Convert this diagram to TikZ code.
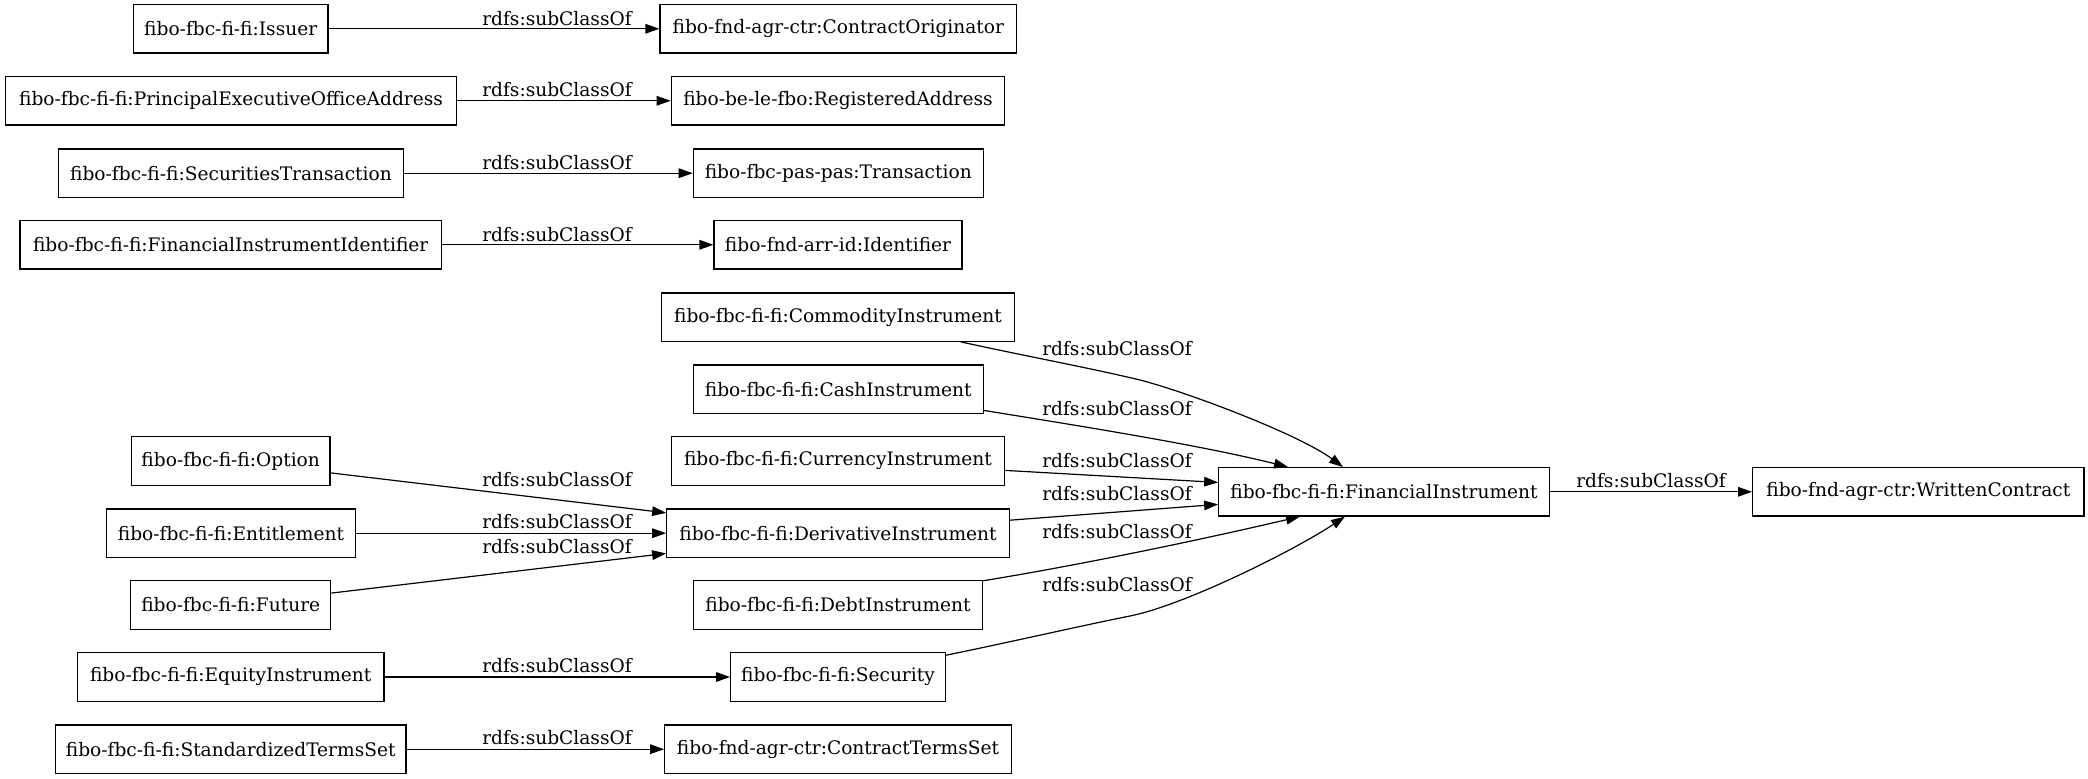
\documentclass[tikz,border=0pt]{standalone}
\usepackage{fontspec}
\setmainfont{DejaVu Serif}
\usetikzlibrary{arrows.meta,calc}
\begin{document}
\begin{tikzpicture}[x=0.5pt,y=-0.5pt,
  box/.style={draw,line width=0.6pt,inner sep=0pt,minimum height=24.15pt,font=\fontsize{9.3}{11}\selectfont},
  lbl/.style={inner sep=0pt,font=\fontsize{9.3}{11}\selectfont},
  edge/.style={line width=0.6pt,-{Triangle[length=7pt,width=4.8pt]}}]
\useasboundingbox (0,0) rectangle (2088,779);
% nodes
\node[box,minimum width=97.3pt]  (iss)  at (230.7,28.8)  {fibo-fbc-fi-fi:Issuer};
\node[box,minimum width=178.3pt] (co)   at (838.3,28.8)  {fibo-fnd-agr-ctr:ContractOriginator};
\node[box,minimum width=225.7pt] (peoa) at (231,100.8)   {fibo-fbc-fi-fi:PrincipalExecutiveOfficeAddress};
\node[box,minimum width=166.7pt] (ra)   at (838,100.8)   {fibo-be-le-fbo:RegisteredAddress};
\node[box,minimum width=172.3pt] (st)   at (231,173.2)   {fibo-fbc-fi-fi:SecuritiesTransaction};
\node[box,minimum width=145pt]   (tr)   at (838.3,173.2) {fibo-fbc-pas-pas:Transaction};
\node[box,minimum width=210.7pt] (fii)  at (230.7,244.8) {fibo-fbc-fi-fi:FinancialInstrumentIdentifier};
\node[box,minimum width=124pt]   (id)   at (838,244.8)   {fibo-fnd-arr-id:Identifier};
\node[box,minimum width=176.7pt] (comm) at (838,317.2)   {fibo-fbc-fi-fi:CommodityInstrument};
\node[box,minimum width=145pt]   (cash) at (838.3,389.2) {fibo-fbc-fi-fi:CashInstrument};
\node[box,minimum width=166.7pt] (curr) at (838,461)     {fibo-fbc-fi-fi:CurrencyInstrument};
\node[box,minimum width=99.3pt]  (opt)  at (230.7,461)   {fibo-fbc-fi-fi:Option};
\node[box,minimum width=124.3pt] (ent)  at (231,533.2)   {fibo-fbc-fi-fi:Entitlement};
\node[box,minimum width=171.3pt] (der)  at (838,533.2)   {fibo-fbc-fi-fi:DerivativeInstrument};
\node[box,minimum width=100pt]   (fut)  at (230.7,605)   {fibo-fbc-fi-fi:Future};
\node[box,minimum width=144.7pt] (debt) at (838,605)     {fibo-fbc-fi-fi:DebtInstrument};
\node[box,minimum width=153.3pt] (eq)   at (230.7,677)   {fibo-fbc-fi-fi:EquityInstrument};
\node[box,minimum width=107.3pt] (sec)  at (838,677)     {fibo-fbc-fi-fi:Security};
\node[box,minimum width=175.3pt] (sts)  at (230.7,749.2) {fibo-fbc-fi-fi:StandardizedTermsSet};
\node[box,minimum width=173.3pt] (cts)  at (838,749.2)   {fibo-fnd-agr-ctr:ContractTermsSet};
\node[box,minimum width=165.3pt] (fi)   at (1384,491.8)  {fibo-fbc-fi-fi:FinancialInstrument};
\node[box,minimum width=165.7pt] (wc)   at (1918.3,491.8){fibo-fnd-agr-ctr:WrittenContract};
% straight edges
\draw[edge] (iss) -- (co);
\draw[edge] (peoa) -- (ra);
\draw[edge] (st) -- (tr);
\draw[edge] (fii) -- (id);
\draw[edge] (opt) -- (der);
\draw[edge] (ent) -- (der);
\draw[edge] (fut) -- (der);
\draw[edge] (eq) -- (sec);
\draw[edge] (sts) -- (cts);
\draw[edge] (curr) -- (fi);
\draw[edge] (der) -- (fi);
\draw[edge] (fi) -- (wc);
% curved edges
\draw[edge] ($(comm.south)+(123,0)$) .. controls (1030,357) and (1090,368) .. (1140,380)
  .. controls (1190,393) and (1300,435) .. ($(fi.north)+(-41,0)$);
\draw[edge] ($(cash.south east)+(0,-3.5)$) .. controls (1080,426) and (1200,445) .. ($(fi.north)+(-96,0)$);
\draw[edge] ($(debt.north east)+(0,0.5)$) .. controls (1080,565) and (1200,540) .. ($(fi.south)+(-84,0)$);
\draw[edge] ($(sec.north east)+(0,3)$) .. controls (1020,640) and (1080,626) .. (1130,616)
  .. controls (1185,605) and (1295,550) .. ($(fi.south)+(-39,0)$);
% labels
\node[lbl] (l1)  at (557,18.3)   {rdfs:subClassOf};
\node[lbl] (l2)  at (557,90)     {rdfs:subClassOf};
\node[lbl] (l3)  at (557,162.3)  {rdfs:subClassOf};
\node[lbl] (l4)  at (557,234.3)  {rdfs:subClassOf};
\node[lbl] (l5)  at (557,480)    {rdfs:subClassOf};
\node[lbl] (l6)  at (557,521.7)  {rdfs:subClassOf};
\node[lbl] (l7)  at (557,546.7)  {rdfs:subClassOf};
\node[lbl] (l8)  at (557,665.7)  {rdfs:subClassOf};
\node[lbl] (l9)  at (557,738)    {rdfs:subClassOf};
\node[lbl] (l10) at (1117,349)   {rdfs:subClassOf};
\node[lbl] (l11) at (1117,409)   {rdfs:subClassOf};
\node[lbl] (l12) at (1117,461)   {rdfs:subClassOf};
\node[lbl] (l13) at (1117,494)   {rdfs:subClassOf};
\node[lbl] (l14) at (1117,532)   {rdfs:subClassOf};
\node[lbl] (l15) at (1117,585)   {rdfs:subClassOf};
\node[lbl] (l16) at (1651,481)   {rdfs:subClassOf};
\end{tikzpicture}
\end{document}
